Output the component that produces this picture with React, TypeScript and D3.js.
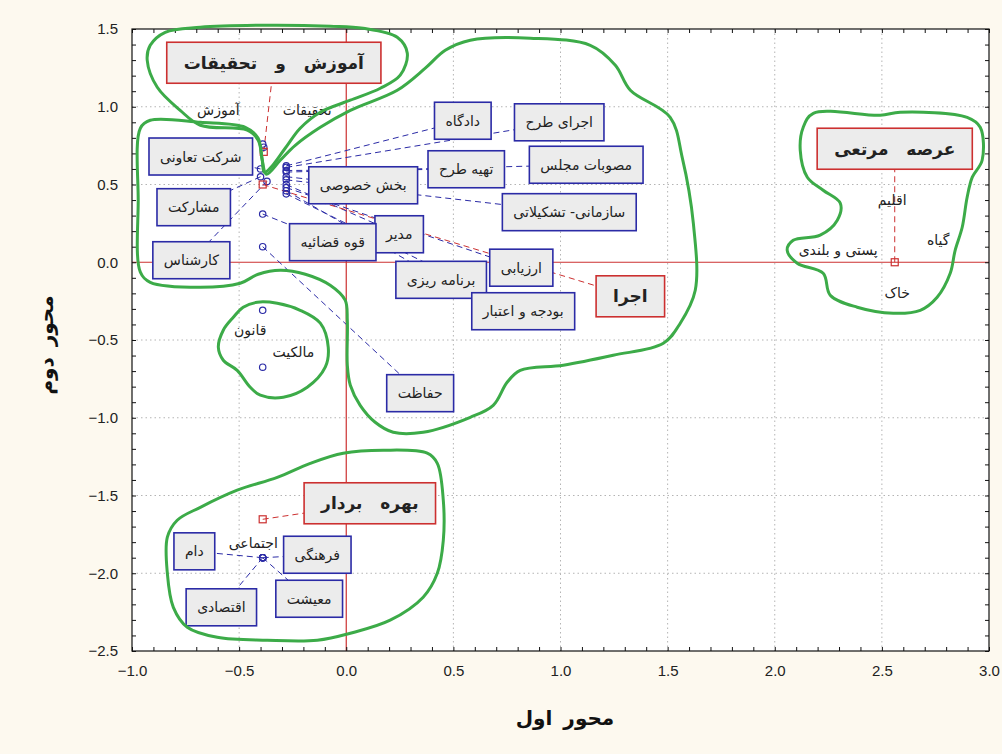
import React, { useEffect, useRef } from "react";
import * as d3 from "d3";

// ---------- axis ticks ----------
const xTicks = [-1.0, -0.5, 0.0, 0.5, 1.0, 1.5, 2.0, 2.5, 3.0];
const yTicks = [-2.5, -2.0, -1.5, -1.0, -0.5, 0.0, 0.5, 1.0, 1.5];
const xTitle = "محور اول";
const yTitle = "محور دوم";

// ---------- row points (red) ----------
const rowNames = ["آموزش و تحقیقات", "اجرا", "عرصه مرتعی", "بهره بردار"];
const rowX = [-0.385, -0.39, 2.56, -0.39];
const rowY = [0.71, 0.5, 0.0, -1.653];
const rowLabelX = [-0.338, 1.326, 2.56, 0.11];
const rowLabelY = [1.283, -0.219, 0.73, -1.55];

// ---------- column points (blue) ----------
const colNames = [
  "آموزش", "تحقیقات", "شرکت تعاونی", "مشارکت", "کارشناس",
  "دادگاه", "اجرای طرح", "تهیه طرح", "مصوبات مجلس", "بخش خصوصی",
  "سازمانی- تشکیلاتی", "مدیر", "ارزیابی", "برنامه ریزی", "بودجه و اعتبار",
  "قوه قضائیه", "حفاظت", "قانون", "مالکیت",
  "دام", "فرهنگی", "اقتصادی", "معیشت", "اجتماعی",
];
const colX = [
  -0.39, -0.385, -0.40, -0.40, -0.37,
  -0.28, -0.28, -0.28, -0.28, -0.28,
  -0.28, -0.28, -0.28, -0.28, -0.28,
  -0.39, -0.39, -0.39, -0.39,
  -0.39, -0.39, -0.39, -0.39, -0.39,
];
const colY = [
  0.76, 0.74, 0.60, 0.55, 0.52,
  0.62, 0.61, 0.59, 0.58, 0.55,
  0.53, 0.50, 0.48, 0.46, 0.44,
  0.31, 0.10, -0.309, -0.675,
  -1.90, -1.90, -1.90, -1.90, -1.90,
];
const colLabelX = [
  -0.597, -0.182, -0.679, -0.712, -0.723,
  0.544, 0.994, 0.56, 1.12, 0.079,
  1.041, 0.247, 0.817, 0.443, 0.826,
  -0.063, 0.345, -0.448, -0.247,
  -0.709, -0.135, -0.583, -0.173, -0.434,
];
const colLabelY = [
  0.977, 0.977, 0.68, 0.354, 0.013,
  0.91, 0.9, 0.598, 0.627, 0.495,
  0.322, 0.18, -0.035, -0.113, -0.315,
  0.129, -0.842, -0.437, -0.579,
  -1.859, -1.881, -2.219, -2.164, -1.807,
];
const colBoxed = [
  false, false, true, true, true,
  true, true, true, true, true,
  true, true, true, true, true,
  true, true, false, false,
  true, true, true, true, false,
];

// ---------- rangeland terms (text only) ----------
const rangeTerms = ["اقلیم", "گیاه", "پستی و بلندی", "خاک"];
const rangeTermX = [2.548, 2.763, 2.296, 2.572];
const rangeTermY = [0.399, 0.141, 0.077, -0.199];

// ---------- group outlines (data coords) ----------
const outlineEducation: [number, number][] = [
  [-0.915, 1.395], [-0.845, 1.479], [-0.681, 1.511], [-0.387, 1.524], [-0.075, 1.518],
  [0.079, 1.505], [0.238, 1.447], [0.285, 1.344], [0.252, 1.203], [0.159, 1.119],
  [0.019, 1.042], [-0.121, 0.965], [-0.215, 0.862], [-0.285, 0.733], [-0.355, 0.605],
  [-0.383, 0.579], [-0.392, 0.656], [-0.411, 0.785], [-0.462, 0.849], [-0.681, 0.881],
  [-0.775, 0.977], [-0.882, 1.125], [-0.929, 1.299],
];
const outlineExecution: [number, number][] = [
  [-0.961, 0.862], [-0.915, 0.913], [-0.681, 0.9], [-0.471, 0.868], [-0.411, 0.797],
  [-0.392, 0.656], [-0.373, 0.566], [-0.308, 0.656], [-0.238, 0.752], [-0.121, 0.868],
  [0.019, 0.977], [0.238, 1.106], [0.369, 1.248], [0.462, 1.363], [0.579, 1.428],
  [0.859, 1.441], [1.139, 1.395], [1.256, 1.267], [1.326, 1.106], [1.512, 0.932],
  [1.568, 0.675], [1.62, 0.251], [1.629, -0.18], [1.559, -0.392], [1.48, -0.521],
  [1.246, -0.598], [1.013, -0.662], [0.812, -0.695], [0.751, -0.772], [0.686, -0.92],
  [0.579, -0.997], [0.359, -1.093], [0.219, -1.093], [0.135, -1.029], [0.065, -0.92],
  [0.019, -0.791], [0.005, -0.662], [0.005, -0.373], [-0.005, -0.244], [-0.075, -0.148],
  [-0.191, -0.077], [-0.308, -0.051], [-0.411, -0.077], [-0.495, -0.135], [-0.681, -0.161],
  [-0.915, -0.129], [-0.961, -0.064], [-0.971, 0.399],
];
const outlineLaw: [number, number][] = [
  [-0.527, -0.354], [-0.481, -0.289], [-0.415, -0.257], [-0.322, -0.264], [-0.215, -0.309],
  [-0.121, -0.392], [-0.084, -0.547], [-0.098, -0.675], [-0.182, -0.804], [-0.294, -0.868],
  [-0.401, -0.855], [-0.448, -0.804], [-0.509, -0.695], [-0.574, -0.63], [-0.597, -0.547],
  [-0.574, -0.437],
];
const outlineRangeland: [number, number][] = [
  [2.18, 0.958], [2.492, 0.945], [2.586, 0.965], [2.898, 0.932], [2.959, 0.868],
  [2.968, 0.656], [2.922, 0.547], [2.898, 0.418], [2.875, 0.225], [2.842, 0.077],
  [2.819, -0.071], [2.758, -0.225], [2.679, -0.309], [2.553, -0.328], [2.385, -0.289],
  [2.259, -0.212], [2.226, -0.071], [2.105, -0.006], [2.058, 0.077], [2.086, 0.141],
  [2.212, 0.174], [2.292, 0.27], [2.306, 0.379], [2.226, 0.463], [2.152, 0.547],
  [2.119, 0.72], [2.133, 0.868],
];
const outlineUser: [number, number][] = [
  [-0.789, -1.659], [-0.681, -1.576], [-0.509, -1.466], [-0.322, -1.383], [-0.168, -1.293],
  [-0.014, -1.228], [0.173, -1.209], [0.378, -1.228], [0.425, -1.293], [0.453, -1.531],
  [0.453, -1.788], [0.425, -2.0], [0.359, -2.154], [0.205, -2.302], [0.019, -2.386],
  [-0.135, -2.431], [-0.369, -2.431], [-0.602, -2.412], [-0.742, -2.347], [-0.807, -2.219],
  [-0.835, -2.0], [-0.835, -1.768],
];
const outlines = [outlineEducation, outlineExecution, outlineLaw, outlineRangeland, outlineUser];

const W = 1002;
const H = 754;
const FA = "'DejaVu Sans', sans-serif";
const BLUE = "#2b2ba6";
const RED = "#cc3030";
const GREEN = "#3cab48";

function clipToBox(px: number, py: number, cx: number, cy: number, hw: number, hh: number) {
  const dx = px - cx;
  const dy = py - cy;
  if (dx === 0 && dy === 0) return [cx, cy];
  let t: number;
  if (Math.abs(dx) * hh > Math.abs(dy) * hw) t = hw / Math.abs(dx);
  else t = hh / Math.abs(dy);
  if (t >= 1) return [px, py];
  return [cx + dx * t, cy + dy * t];
}

export default function App() {
  const ref = useRef<SVGSVGElement>(null);

  useEffect(() => {
    const svg = d3.select(ref.current!);
    svg.selectAll("*").remove();
    const L = 132, R = 989, T = 29, B = 651;
    const x = d3.scaleLinear().domain([-1, 3]).range([L, R]);
    const y = d3.scaleLinear().domain([-2.5, 1.5]).range([B, T]);

    svg.append("rect").attr("width", W).attr("height", H).attr("fill", "#fdf9ef");
    svg.append("rect").attr("x", L).attr("y", T).attr("width", R - L).attr("height", B - T).attr("fill", "#ffffff");

    // grid
    const grid = svg.append("g").attr("stroke", "#b4b4b4").attr("stroke-width", 1).attr("stroke-dasharray", "1.5,3");
    xTicks.filter((v) => v > -1 && v < 3 && v !== 0).forEach((v) => {
      grid.append("line").attr("x1", x(v)).attr("x2", x(v)).attr("y1", T).attr("y2", B);
    });
    yTicks.filter((v) => v > -2.5 && v < 1.5 && v !== 0).forEach((v) => {
      grid.append("line").attr("y1", y(v)).attr("y2", y(v)).attr("x1", L).attr("x2", R);
    });

    // zero lines
    svg.append("line").attr("x1", x(0)).attr("x2", x(0)).attr("y1", T).attr("y2", B).attr("stroke", RED).attr("stroke-width", 1.2);
    svg.append("line").attr("y1", y(0)).attr("y2", y(0)).attr("x1", L).attr("x2", R).attr("stroke", RED).attr("stroke-width", 1.2);

    // axes
    const minorX = d3.range(-10, 31).map((i) => i / 10);
    const minorY = d3.range(-25, 16).map((i) => i / 10);
    const isMajor = (v: number) => Math.abs(v * 2 - Math.round(v * 2)) < 1e-6;
    const fmt = (v: number) => (isMajor(v) ? d3.format(".1f")(v) : "");

    const gb = svg.append("g").attr("transform", `translate(0,${B})`)
      .call(d3.axisBottom(x).tickValues(minorX).tickSize(-4).tickPadding(14).tickFormat(fmt as any));
    gb.selectAll("text").attr("font-family", "'Liberation Sans Narrow', 'Liberation Sans', Arial, sans-serif").attr("font-size", 15).attr("fill", "#222");
    const gl = svg.append("g").attr("transform", `translate(${L},0)`)
      .call(d3.axisLeft(y).tickValues(minorY).tickSize(-4).tickPadding(14).tickFormat(fmt as any));
    gl.selectAll("text").attr("font-family", "'Liberation Sans', Arial, sans-serif").attr("font-size", 15).attr("fill", "#222");
    svg.append("g").attr("transform", `translate(0,${T})`)
      .call(d3.axisTop(x).tickValues(minorX).tickSize(-4).tickFormat(() => ""));
    svg.append("g").attr("transform", `translate(${R},0)`)
      .call(d3.axisRight(y).tickValues(minorY).tickSize(-4).tickFormat(() => ""));
    svg.selectAll(".domain").remove();
    svg.selectAll(".tick line").attr("stroke", "#111");

    svg.append("rect").attr("x", L).attr("y", T).attr("width", R - L).attr("height", B - T)
      .attr("fill", "none").attr("stroke", "#111").attr("stroke-width", 1.2);

    const lineLayer = svg.append("g");
    const markerLayer = svg.append("g");
    const boxLayer = svg.append("g");

    const measure = (txt: string, size: number, weight: string, ws: number) => {
      const t = svg.append("text").attr("font-family", FA).attr("font-size", size).attr("font-weight", weight)
        .attr("word-spacing", ws).attr("direction", "rtl").text(txt);
      const w = (t.node() as SVGTextElement).getComputedTextLength();
      t.remove();
      return w;
    };

    // column labels (blue)
    colNames.forEach((name, i) => {
      const px = x(colX[i]), py = y(colY[i]);
      const cx = x(colLabelX[i]), cy = y(colLabelY[i]);
      const size = 14;
      if (colBoxed[i]) {
        const w = measure(name, size, "normal", 0) + 22;
        const h = 37;
        const [ex, ey] = clipToBox(px, py, cx, cy, w / 2, h / 2);
        lineLayer.append("line").attr("x1", px).attr("y1", py).attr("x2", ex).attr("y2", ey)
          .attr("stroke", BLUE).attr("stroke-width", 1).attr("stroke-dasharray", "6,4");
        boxLayer.append("rect").attr("x", cx - w / 2).attr("y", cy - h / 2).attr("width", w).attr("height", h)
          .attr("fill", "#ececec").attr("stroke", BLUE).attr("stroke-width", 1.6);
      }
      boxLayer.append("text").attr("x", cx).attr("y", cy).attr("font-family", FA).attr("font-size", size)
        .attr("direction", "rtl").attr("text-anchor", "middle").attr("dominant-baseline", "central")
        .attr("fill", "#222").text(name);
      markerLayer.append("circle").attr("cx", px).attr("cy", py).attr("r", 3.2)
        .attr("fill", "none").attr("stroke", BLUE).attr("stroke-width", 1.2);
    });

    // rangeland terms
    rangeTerms.forEach((name, i) => {
      boxLayer.append("text").attr("x", x(rangeTermX[i])).attr("y", y(rangeTermY[i])).attr("font-family", FA)
        .attr("font-size", 14).attr("direction", "rtl").attr("text-anchor", "middle").attr("dominant-baseline", "central")
        .attr("fill", "#222").text(name);
    });

    // row labels (red)
    rowNames.forEach((name, i) => {
      const px = x(rowX[i]), py = y(rowY[i]);
      const cx = x(rowLabelX[i]), cy = y(rowLabelY[i]);
      const size = 17;
      const ws = 12;
      const w = measure(name, size, "bold", ws) + 34;
      const h = 41;
      const [ex, ey] = clipToBox(px, py, cx, cy, w / 2, h / 2);
      lineLayer.append("line").attr("x1", px).attr("y1", py).attr("x2", ex).attr("y2", ey)
        .attr("stroke", RED).attr("stroke-width", 1).attr("stroke-dasharray", "6,4");
      boxLayer.append("rect").attr("x", cx - w / 2).attr("y", cy - h / 2).attr("width", w).attr("height", h)
        .attr("fill", "#ececec").attr("stroke", RED).attr("stroke-width", 1.6);
      boxLayer.append("text").attr("x", cx).attr("y", cy).attr("font-family", FA).attr("font-size", size)
        .attr("font-weight", "bold").attr("word-spacing", ws).attr("direction", "rtl").attr("text-anchor", "middle")
        .attr("dominant-baseline", "central").attr("fill", "#222").text(name);
      markerLayer.append("rect").attr("x", px - 3.5).attr("y", py - 3.5).attr("width", 7).attr("height", 7)
        .attr("fill", "none").attr("stroke", RED).attr("stroke-width", 1.2);
    });

    // outlines
    const line = d3.line<[number, number]>().x((d) => x(d[0])).y((d) => y(d[1])).curve(d3.curveCatmullRomClosed.alpha(0.5));
    svg.append("g").selectAll("path").data(outlines).join("path")
      .attr("d", (d) => line(d) as string)
      .attr("fill", "none").attr("stroke", GREEN).attr("stroke-width", 3).attr("stroke-linejoin", "round");

    // axis titles
    svg.append("text").attr("x", 565).attr("y", 718).attr("font-family", FA).attr("font-size", 20)
      .attr("font-weight", "bold").attr("word-spacing", 4).attr("direction", "rtl").attr("text-anchor", "middle")
      .attr("dominant-baseline", "central").attr("fill", "#111").text(xTitle);
    svg.append("text").attr("transform", `translate(46,345) rotate(-90)`).attr("font-family", FA).attr("font-size", 20)
      .attr("font-weight", "bold").attr("word-spacing", 4).attr("direction", "rtl").attr("text-anchor", "middle")
      .attr("dominant-baseline", "central").attr("fill", "#111").text(yTitle);
  }, []);

  return (
    <div style={{ position: "absolute", left: 0, top: 0 }}>
      <svg ref={ref} width={W} height={H} style={{ display: "block" }} />
    </div>
  );
}
